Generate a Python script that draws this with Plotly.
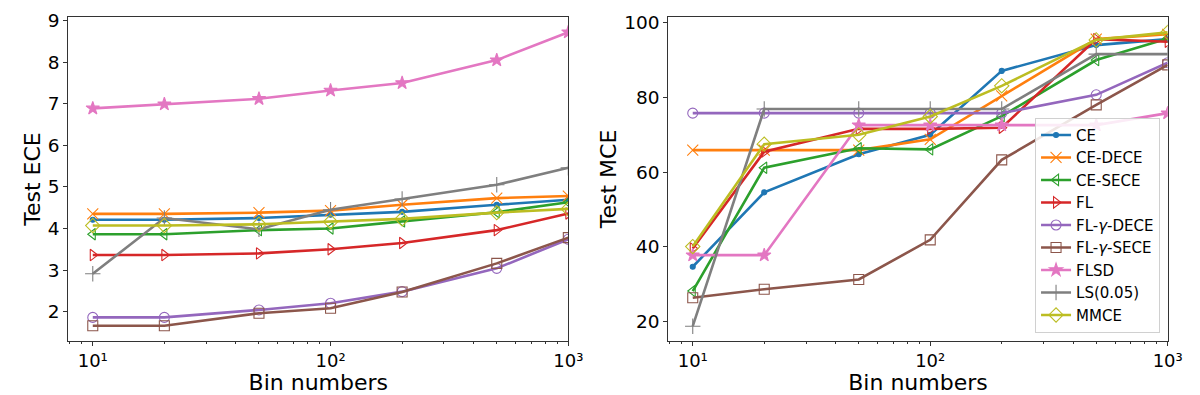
import plotly.graph_objects as go
from plotly.subplots import make_subplots

bins = [10, 20, 50, 100, 200, 500, 1000]
bin_ticks = [10, 100, 1000]
bin_tick_text = ["10¹", "10²", "10³"]
methods = ["CE", "CE-DECE", "CE-SECE", "FL", "FL-<i>γ</i>-DECE", "FL-<i>γ</i>-SECE", "FLSD", "LS(0.05)", "MMCE"]

ece_CE = [4.21, 4.21, 4.25, 4.33, 4.40, 4.57, 4.69]
ece_CE_DECE = [4.35, 4.35, 4.38, 4.43, 4.57, 4.73, 4.78]
ece_CE_SECE = [3.86, 3.86, 3.96, 4.00, 4.17, 4.39, 4.63]
ece_FL = [3.36, 3.36, 3.40, 3.50, 3.65, 3.96, 4.36]
ece_FLg_DECE = [1.86, 1.86, 2.04, 2.20, 2.48, 3.04, 3.74]
ece_FLg_SECE = [1.66, 1.66, 1.96, 2.08, 2.47, 3.16, 3.78]
ece_FLSD = [6.89, 6.99, 7.12, 7.32, 7.50, 8.05, 8.72]
ece_LS = [2.91, 4.25, 3.98, 4.45, 4.71, 5.05, 5.46]
ece_MMCE = [4.07, 4.07, 4.10, 4.16, 4.23, 4.38, 4.47]

mce_CE = [34.7, 54.6, 64.8, 70.0, 87.1, 94.0, 95.6]
mce_CE_DECE = [65.9, 65.9, 65.9, 68.8, 80.4, 95.6, 96.9]
mce_CE_SECE = [28.2, 61.2, 66.4, 66.1, 75.0, 90.0, 95.8]
mce_FL = [39.6, 65.5, 71.6, 71.6, 71.9, 95.6, 94.9]
mce_FLg_DECE = [75.8, 75.8, 75.8, 75.8, 75.8, 80.7, 89.3]
mce_FLg_SECE = [26.4, 28.7, 31.3, 41.9, 63.3, 78.0, 88.7]
mce_FLSD = [37.8, 37.8, 72.6, 72.6, 72.6, 72.6, 75.8]
mce_LS = [18.8, 76.9, 76.9, 76.9, 76.9, 91.6, 91.6]
mce_MMCE = [40.1, 67.5, 70.0, 74.9, 83.1, 95.4, 97.4]

ece = [ece_CE, ece_CE_DECE, ece_CE_SECE, ece_FL, ece_FLg_DECE, ece_FLg_SECE, ece_FLSD, ece_LS, ece_MMCE]
mce = [mce_CE, mce_CE_DECE, mce_CE_SECE, mce_FL, mce_FLg_DECE, mce_FLg_SECE, mce_FLSD, mce_LS, mce_MMCE]

colors = ["#1f77b4", "#ff7f0e", "#2ca02c", "#d62728", "#9467bd", "#8c564b", "#e377c2", "#7f7f7f", "#bcbd22"]
symbols = ["circle", "x-thin-open", "triangle-left-open", "triangle-right-open", "circle-open",
           "square-open", "star", "cross-thin-open", "diamond-open"]
sizes = [5, 11, 10, 10, 10, 10, 10, 11, 11]

FONT = "DejaVu Sans"
fig = make_subplots(rows=1, cols=2)

for col, data in ((1, ece), (2, mce)):
    for i, name in enumerate(methods):
        fig.add_trace(go.Scatter(
            x=bins, y=data[i], name=name, mode="lines+markers",
            line=dict(color=colors[i], width=2.6),
            marker=dict(symbol=symbols[i], size=sizes[i], color=colors[i],
                        line=dict(color=colors[i], width=1.1)),
            showlegend=(col == 2), legendgroup=name,
        ), row=1, col=col)

xaxis_common = dict(
    type="log", range=[0.897, 3.0], automargin=False,
    tickvals=bin_ticks, ticktext=bin_tick_text,
    ticks="outside", ticklen=4, tickwidth=1, tickcolor="#333",
    minor=dict(ticks="outside", ticklen=2.5, tickwidth=0.8, tickcolor="#333", dtick="D1", showgrid=False),
    showgrid=False, zeroline=False, showline=True, linecolor="#333", linewidth=1, mirror=True,
    tickfont=dict(family=FONT, size=18, color="black"),
    title=dict(text="Bin numbers", font=dict(family=FONT, size=22, color="black"), standoff=3),
)
fig.update_xaxes(**xaxis_common)
fig.update_xaxes(domain=[0.0569, 0.4736], row=1, col=1)
fig.update_xaxes(domain=[0.5569, 0.9731], row=1, col=2)

yaxis_common = dict(
    automargin=False,
    ticks="outside", ticklen=4, tickwidth=1, tickcolor="#333",
    showgrid=False, zeroline=False, showline=True, linecolor="#333", linewidth=1, mirror=True,
    tickfont=dict(family=FONT, size=18.5, color="black"),
    domain=[0.1375, 0.9562],
)
fig.update_yaxes(**yaxis_common)
fig.update_yaxes(range=[1.30, 9.08], tickvals=[2, 3, 4, 5, 6, 7, 8, 9],
                 title=dict(text="Test ECE", font=dict(family=FONT, size=22, color="black"), standoff=1),
                 row=1, col=1)
fig.update_yaxes(range=[14.92, 101.44], tickvals=[20, 40, 60, 80, 100],
                 title=dict(text="Test MCE", font=dict(family=FONT, size=22, color="black"), standoff=1),
                 row=1, col=2)

fig.update_layout(
    width=1200, height=395,
    margin=dict(l=0, r=0, t=0, b=0, autoexpand=False),
    paper_bgcolor="white", plot_bgcolor="white",
    font=dict(family=FONT, color="black"),
    legend=dict(
        x=0.9667, y=0.1577, xanchor="right", yanchor="bottom",
        bgcolor="rgba(255,255,255,0.85)", bordercolor="#d0d0d0", borderwidth=1,
        font=dict(family=FONT, size=15, color="black"),
        tracegroupgap=0, itemwidth=30,
    ),
)

fig.write_html("out.html", config={"displayModeBar": False},
               post_script="document.body.style.margin='0';document.body.style.overflow='hidden';")
